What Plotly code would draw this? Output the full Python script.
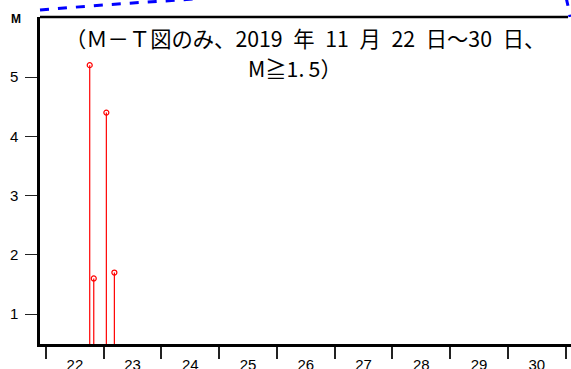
import plotly.graph_objects as go

# Earthquake events: time (day of Nov 2019, fractional) and magnitude
event_day = [22.757, 22.827, 23.045, 23.184]
event_mag = [5.2, 1.6, 4.4, 1.7]

day_ticks = list(range(22, 32))
day_labels = [str(d) for d in range(22, 31)]
day_label_pos = [d + 0.5 for d in range(22, 31)]
mag_ticks = [1, 2, 3, 4, 5]

x_range = [21.896, 31.092]
y_range = [0.494, 6.013]
base = y_range[0]

W, H = 571, 369
L, R, T, B = 40, 0, 17, 25
pw, ph = W - L - R, H - T - B


def px_to_paper(px, py):
    return (px - L) / pw, (H - B - py) / ph


# stems from the bottom of the axis up to each magnitude
stem_x, stem_y = [], []
for d, m in zip(event_day, event_mag):
    stem_x += [d, d, None]
    stem_y += [base, m, None]

fig = go.Figure()
fig.add_trace(go.Scatter(x=stem_x, y=stem_y, mode="lines",
                         line=dict(color="#ff0000", width=1.2),
                         hoverinfo="skip", showlegend=False))
fig.add_trace(go.Scatter(x=event_day, y=event_mag, mode="markers",
                         marker=dict(symbol="circle-open", size=5,
                                     color="#ff0000", line=dict(width=1.2)),
                         showlegend=False))
# invisible trace carrying the day labels on the overlay axis
fig.add_trace(go.Scatter(x=[x_range[0]], y=[None], xaxis="x2",
                         mode="markers", showlegend=False, hoverinfo="skip"))

fig.update_layout(
    width=W, height=H,
    margin=dict(l=L, r=R, t=T, b=B, autoexpand=False),
    paper_bgcolor="white", plot_bgcolor="white",
    xaxis=dict(range=x_range, tickvals=day_ticks, ticktext=[""] * len(day_ticks),
               ticks="outside", ticklen=12, tickwidth=1.6, tickcolor="#222",
               showline=True, linewidth=2.5, linecolor="black", automargin=False,
               showgrid=False, zeroline=False, fixedrange=True),
    xaxis2=dict(range=x_range, overlaying="x", side="bottom",
                tickvals=day_label_pos, ticktext=day_labels, automargin=False,
                ticks="", ticklabelstandoff=10, showline=False,
                showgrid=False, zeroline=False,
                tickfont=dict(family="Liberation Sans", size=15, color="black")),
    yaxis=dict(range=y_range, tickvals=mag_ticks, automargin=False,
               ticks="outside", ticklen=12, tickwidth=1.4, tickcolor="#222",
               ticklabelstandoff=4,
               showline=True, linewidth=2.5, linecolor="black",
               showgrid=False, zeroline=False,
               tickfont=dict(family="Liberation Sans", size=15, color="black")),
)

# top frame line
x_end, _ = px_to_paper(568, 0)
fig.add_shape(type="line", xref="paper", yref="paper",
              x0=0, x1=x_end, y0=1, y1=1,
              line=dict(color="black", width=2.5))

# blue dashed boundary arc passing above the frame
pts_left = [(40, 10), (90, 6), (140, 2.5), (180, 0), (220, -3)]
pts_right = [(566, -3), (568, 6), (570, 17)]


def path_of(pts):
    s = ""
    for i, (px, py) in enumerate(pts):
        x, y = px_to_paper(px, py)
        s += ("M" if i == 0 else " L") + f" {x:.5f},{y:.5f}"
    return s


for pts in (pts_left, pts_right):
    fig.add_shape(type="path", xref="paper", yref="paper", path=path_of(pts),
                  line=dict(color="#0000ff", width=3, dash="dash"))

# axis name
x, y = px_to_paper(15.5, 19)
fig.add_annotation(x=x, y=y, xref="paper", yref="paper", text="<b>M</b>",
                   showarrow=False, xanchor="center", yanchor="middle",
                   font=dict(family="Liberation Sans", size=12, color="black"))

# title text in two lines (en spaces keep the half-width gaps)
sp = "\u2002"
title_font = dict(family="Noto Sans CJK JP", size=21.3, color="black")
x, y = px_to_paper(305, 38)
fig.add_annotation(x=x, y=y, xref="paper", yref="paper",
                   text=f"（Ｍ－Ｔ図のみ、2019{sp}年{sp}11{sp}月{sp}22{sp}日～30{sp}日、",
                   showarrow=False, xanchor="center", yanchor="middle",
                   font=title_font)
x, y = px_to_paper(295, 67)
fig.add_annotation(x=x, y=y, xref="paper", yref="paper",
                   text="M≧1.\u20095）",
                   showarrow=False, xanchor="center", yanchor="middle",
                   font=title_font)

fig.write_html("out.html")
